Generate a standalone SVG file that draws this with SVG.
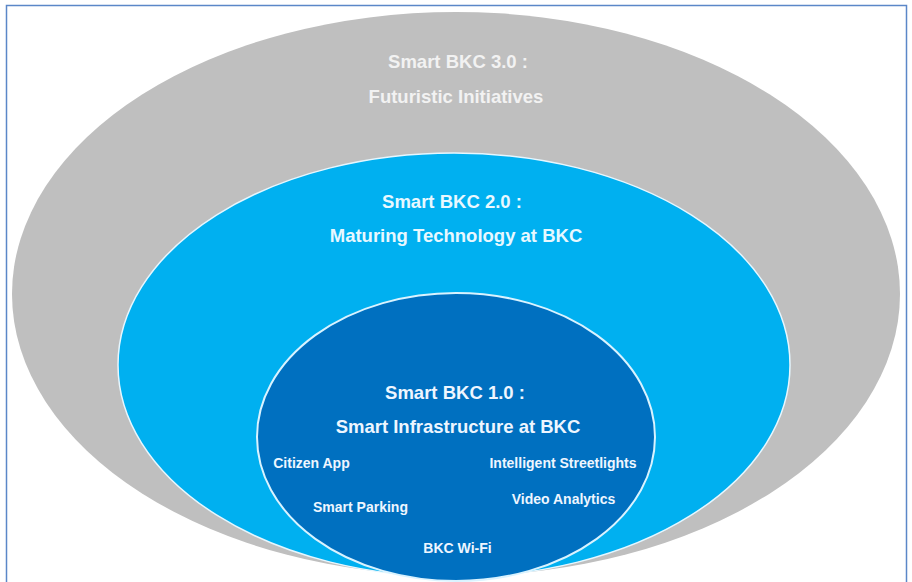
<svg xmlns="http://www.w3.org/2000/svg" width="912" height="582" viewBox="0 0 912 582">
  <style>
    .title { font-family: "Liberation Sans", Arial, sans-serif; font-weight: bold; font-size: 18.5px; text-anchor: middle; }
    .item { font-family: "Liberation Sans", Arial, sans-serif; font-weight: bold; font-size: 14px; text-anchor: middle; fill: #eef6ff; }
    .t3 { fill: #f2f2f2; }
    .t2 { fill: #e8f8ff; }
    .t1 { fill: #eef6ff; }
  </style>
  <rect x="0" y="0" width="912" height="582" fill="#ffffff"/>
  <rect id="frame" x="6.5" y="5.5" width="900" height="600" fill="none" stroke="#5b87c8" stroke-width="1.5"/>
  <g id="smart-bkc-3">
    <ellipse cx="456" cy="294" rx="444" ry="282" fill="#bfbfbf"/>
    <text class="title t3" x="458" y="68">Smart BKC 3.0 :</text>
    <text class="title t3" x="456" y="103">Futuristic Initiatives</text>
  </g>
  <g id="smart-bkc-2">
    <ellipse cx="454" cy="365" rx="336" ry="212" fill="#00b0f0" stroke="#e6f7ff" stroke-width="1.5"/>
    <text class="title t2" x="452" y="208">Smart BKC 2.0 :</text>
    <text class="title t2" x="456" y="242">Maturing Technology at BKC</text>
  </g>
  <g id="smart-bkc-1">
    <ellipse cx="456" cy="437" rx="199" ry="144" fill="#0070c0" stroke="#d9f3ff" stroke-width="2"/>
    <text class="title t1" x="455" y="399">Smart BKC 1.0 :</text>
    <text class="title t1" x="458" y="433">Smart Infrastructure at BKC</text>
  </g>
  <g id="citizen-app"><text class="item" x="311.5" y="468">Citizen App</text></g>
  <g id="intelligent-streetlights"><text class="item" x="563" y="468">Intelligent Streetlights</text></g>
  <g id="smart-parking"><text class="item" x="360.5" y="512">Smart Parking</text></g>
  <g id="video-analytics"><text class="item" x="563.5" y="504">Video Analytics</text></g>
  <g id="bkc-wifi"><text class="item" x="457.5" y="553">BKC Wi-Fi</text></g>
  <g id="connectors"></g>
</svg>
